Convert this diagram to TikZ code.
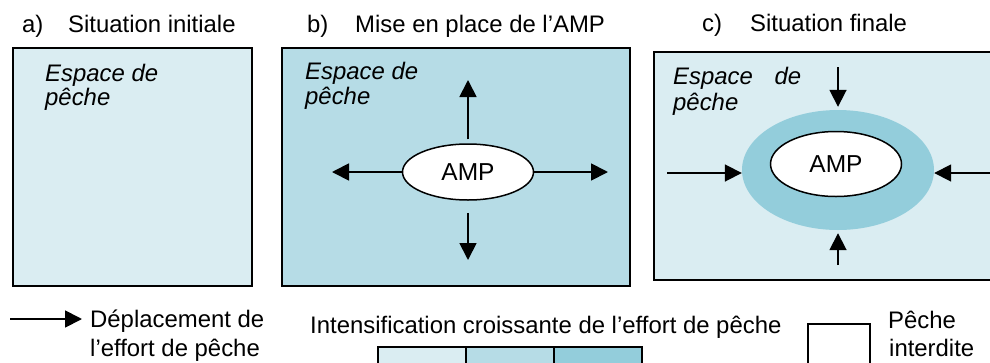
\documentclass[tikz,border=0pt]{standalone}
\usepackage{fontspec}
\setmainfont{Liberation Sans}
\definecolor{SeaLight}{HTML}{DAEDF2}
\definecolor{SeaMid}{HTML}{B6DCE6}
\definecolor{SeaDark}{HTML}{93CDDB}
\usetikzlibrary{arrows.meta, positioning, shapes.geometric}

\begin{document}
\begin{tikzpicture}[x=1pt, y=-1pt,
  panel/.style={draw=black, line width=2pt},
  amp/.style={ellipse, draw=black, fill=white, line width=1.5pt, minimum width=131pt, minimum height=56pt, inner sep=0pt, font=\fontsize{24.5}{28}\selectfont},
  flow/.style={-{Triangle[length=17pt, width=17pt]}, line width=1.8pt},
  lbl/.style={anchor=base west, inner sep=0pt, font=\fontsize{23.9}{28}\selectfont},
  espace/.style={lbl, font=\fontsize{23.9}{28}\selectfont\itshape},
  legbox/.style={draw=black, line width=1.6pt, anchor=north west, minimum height=50pt, inner sep=0pt},
]
  \clip (0,0) rectangle (990,362);
  % three panels
  \draw[panel, fill=SeaLight] (13,48) rectangle (252,286);
  \draw[panel, fill=SeaMid] (282,48) rectangle (630,286);
  \draw[panel, fill=SeaLight] (654,52) rectangle (1010,280);
  % titles
  \node[lbl] (tit-a) at (22,32) {a)};
  \node[lbl] (tit-a2) at (68,32) {Situation initiale};
  \node[lbl] (tit-b) at (307,32) {b)};
  \node[lbl] (tit-b2) at (355,32) {Mise en place de l’AMP};
  \node[lbl] (tit-c) at (702,31) {c)};
  \node[lbl] (tit-c2) at (750,31) {Situation finale};
  % fishing space labels
  \node[espace] (esp-a1) at (45,81) {Espace de};
  \node[espace] (esp-a2) at (45,105) {pêche};
  \node[espace] (esp-b1) at (305,79) {Espace de};
  \node[espace] (esp-b2) at (305,104) {pêche};
  \node[espace] (esp-c1) at (673,84) {Espace\hspace{15pt} de};
  \node[espace] (esp-c2) at (673,110) {pêche};
  % b) AMP pushes effort outwards
  \node[amp] (amp-b) at (468,172) {AMP};
  \coordinate (b-n) at (468,80);
  \coordinate (b-s) at (468,260);
  \coordinate (b-w) at (332,172);
  \coordinate (b-e) at (608,172);
  \draw[flow] ([yshift=4pt]amp-b.north) -- (b-n);
  \draw[flow] ([yshift=-12pt]amp-b.south) -- (b-s);
  \draw[flow] (amp-b.west) -- (b-w);
  \draw[flow] (amp-b.east) -- (b-e);
  % c) effort concentrates on the edge
  \node[ellipse, fill=SeaDark, minimum width=192pt, minimum height=120pt, inner sep=0pt] (ring-c) at (838,170) {};
  \node[amp, minimum height=65pt] (amp-c) at (836,164) {AMP};
  \coordinate (c-n) at (838,67);
  \coordinate (c-s) at (838,265);
  \coordinate (c-w) at (667,173);
  \coordinate (c-e) at (1010,173);
  \draw[flow] (c-n) -- ([yshift=3pt]ring-c.north);
  \draw[flow] (c-s) -- ([yshift=-3pt]ring-c.south);
  \draw[flow] (c-w) -- (c-w -| ring-c.west);
  \draw[flow] (c-e) -- (c-e -| ring-c.east);
  % legend
  \coordinate (leg-tail) at (10,319);
  \coordinate (leg-head) at (82,319);
  \draw[flow] (leg-tail) -- (leg-head);
  \node[lbl] (leg-dep1) at (90,327) {Déplacement de};
  \node[lbl] (leg-dep2) at (90,356) {l’effort de pêche};
  \node[lbl] (leg-int) at (310,333) {Intensification croissante de l’effort de pêche};
  \foreach \c [count=\i] in {SeaLight,SeaMid,SeaDark}
    \node[legbox, fill=\c, minimum width=88pt] (grad\i) at (377+88*\i-88,346) {};
  \node[legbox, fill=white, minimum width=62pt] (forbid) at (807,323) {};
  \node[lbl] (leg-forbid1) at (888,328) {Pêche};
  \node[lbl] (leg-forbid2) at (889,356) {interdite};
\end{tikzpicture}
\end{document}
